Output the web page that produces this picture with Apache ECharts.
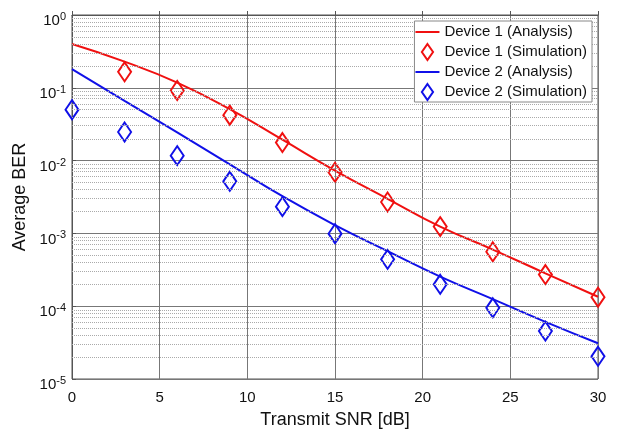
<!DOCTYPE html>
<html>
<head>
<meta charset="utf-8">
<script src="https://cdn.jsdelivr.net/npm/echarts@6/dist/echarts.min.js"></script>
<style>
    html, body { margin: 0; padding: 0; background: #fff; }
    #BerChart { width: 617px; height: 434px; }
</style>
</head>
<body>
<div id="BerChart"></div>
<script>
    // transmit SNR points (dB)
    var snrList = [0, 3, 6, 9, 12, 15, 18, 21, 24, 27, 30];
    // analysis curves
    var dev1Analysis = [0.40, 0.229, 0.118, 0.051, 0.0194, 0.0073, 0.00299, 0.00124, 0.0006, 0.000283, 0.000135];
    var dev2Analysis = [0.18, 0.066, 0.0244, 0.0089, 0.00324, 0.0013, 0.00057, 0.000255, 0.000125, 0.000061, 0.000031];
    // simulation points
    var dev1Simulation = [null, 0.166, 0.092, 0.042, 0.0177, 0.0069, 0.0027, 0.00124, 0.00056, 0.000272, 0.000133];
    var dev2Simulation = [0.050, 0.0247, 0.0117, 0.0052, 0.00233, 0.00099, 0.00044, 0.0002, 0.000095, 0.0000455, 0.0000205];
    var seriesNames = ['Device 1 (Analysis)', 'Device 1 (Simulation)', 'Device 2 (Analysis)', 'Device 2 (Simulation)'];

    function pairs(values) {
        var out = [];
        snrList.forEach(function (x, i) {
            if (values[i] != null) out.push([x, values[i]]);
        });
        return out;
    }

    // dotted minor grid at 2..9 x 10^k (drawn on a hidden linear axis in log10 units)
    var minorLines = [];
    for (var k = -5; k < 0; k++) {
        for (var m = 2; m <= 9; m++) {
            minorLines.push({ yAxis: k + Math.log10(m) });
        }
    }

    var font = 'Liberation Sans, Arial, sans-serif';
    var lineIcon = 'path://M0,0 L24,0 L24,2 L0,2 Z';
    var diamondIcon = 'path://M7,0 L14,10 L7,20 L0,10 Z';
    var myCharts = echarts.init(document.getElementById('BerChart'), null, { renderer: 'canvas' });
    myCharts.setOption({
        animation: false,
        backgroundColor: '#fff',
        textStyle: { fontFamily: font },
        grid: {
            left: 72, right: 19, top: 15, bottom: 54,
            show: true, borderColor: '#555', borderWidth: 1
        },
        legend: {
            orient: 'vertical',
            right: 25, top: 21,
            z: 20,
            itemWidth: 24, itemHeight: 16, itemGap: 3,
            padding: [3, 5, 1, 1],
            backgroundColor: '#fff',
            borderColor: '#888', borderWidth: 1,
            textStyle: { fontSize: 15, lineHeight: 16, color: '#111', fontFamily: font },
            data: [
                { name: seriesNames[0], icon: lineIcon },
                { name: seriesNames[1], icon: diamondIcon },
                { name: seriesNames[2], icon: lineIcon },
                { name: seriesNames[3], icon: diamondIcon }
            ]
        },
        xAxis: {
            type: 'value',
            min: 0, max: 30, interval: 5,
            name: 'Transmit SNR [dB]',
            nameLocation: 'middle', nameGap: 32,
            nameTextStyle: { fontSize: 18, color: '#111', fontFamily: font },
            axisLine: { lineStyle: { color: '#555' } },
            axisTick: { inside: true, length: 4, lineStyle: { color: '#555' } },
            axisLabel: { fontSize: 15, color: '#111', margin: 11, fontFamily: font },
            splitLine: { show: true, lineStyle: { color: '#777', width: 1 } }
        },
        yAxis: [
            {
                type: 'log', logBase: 10,
                min: 1e-5, max: 1,
                name: 'Average BER',
                nameLocation: 'middle', nameGap: 40,
                nameTextStyle: { fontSize: 18, color: '#111', fontFamily: font },
                axisLine: { show: true, lineStyle: { color: '#555' } },
                axisTick: { inside: true, length: 4, lineStyle: { color: '#555' } },
                axisLabel: {
                    margin: 6,
                    padding: [10, 0, 0, 0],
                    formatter: function (val) {
                        return '{b|10}{e|' + Math.round(Math.log10(val)) + '}';
                    },
                    rich: {
                        b: { fontSize: 15, color: '#111', lineHeight: 17, verticalAlign: 'bottom', fontFamily: font },
                        e: { fontSize: 11, color: '#111', lineHeight: 17, verticalAlign: 'top', fontFamily: font }
                    }
                },
                splitLine: { show: true, lineStyle: { color: '#777', width: 1 } }
            },
            {
                type: 'value', min: -5, max: 0, show: false,
                splitLine: { show: false }
            }
        ],
        series: [
            {
                name: seriesNames[0], type: 'line',
                data: pairs(dev1Analysis), smooth: true, symbol: 'none',
                lineStyle: { color: '#f01010', width: 2 }, itemStyle: { color: '#f01010' },
                z: 3
            },
            {
                name: seriesNames[1], type: 'scatter',
                data: pairs(dev1Simulation), symbol: 'diamond', symbolSize: [13, 19],
                itemStyle: { color: 'rgba(255,255,255,0)', borderColor: '#f01010', borderWidth: 2, opacity: 1 },
                z: 4
            },
            {
                name: seriesNames[2], type: 'line',
                data: pairs(dev2Analysis), smooth: true, symbol: 'none',
                lineStyle: { color: '#1010e8', width: 2 }, itemStyle: { color: '#1010e8' },
                z: 3
            },
            {
                name: seriesNames[3], type: 'scatter',
                data: pairs(dev2Simulation), symbol: 'diamond', symbolSize: [13, 19],
                itemStyle: { color: 'rgba(255,255,255,0)', borderColor: '#1010e8', borderWidth: 2, opacity: 1 },
                z: 4
            },
            {
                name: 'minor', type: 'line', data: [], silent: true, yAxisIndex: 1,
                markLine: {
                    silent: true, symbol: 'none',
                    label: { show: false },
                    lineStyle: { color: '#aaa', type: 'dotted', width: 1 },
                    data: minorLines
                },
                z: 1
            }
        ]
    });
    window.addEventListener('resize', function () {
        myCharts.resize();
    });
</script>
</body>
</html>
